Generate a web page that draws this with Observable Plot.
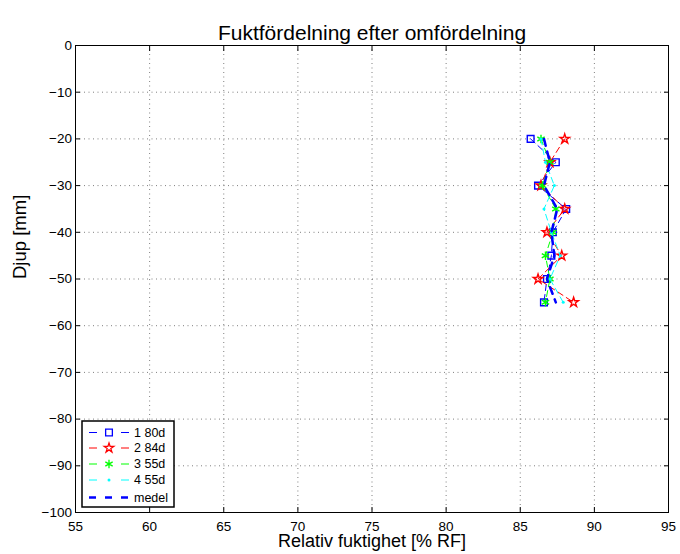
<!DOCTYPE html>
<html><head><meta charset="utf-8">
<script src="https://cdn.jsdelivr.net/npm/d3@7"></script>
<script src="https://cdn.jsdelivr.net/npm/@observablehq/plot@0.6"></script>
<style>
body{margin:0;background:#fff}
#chart{position:relative;width:680px;height:554px}
</style>
</head><body><div id="chart"></div>
<script>
// Depths (mm) and relative humidity (% RF) per series
const depth = [-20, -25, -30, -35, -40, -45, -50, -55];
const s1_80d = [85.7, 87.4, 86.2, 88.1, 87.2, 87.1, 86.8, 86.6];
const s2_84d = [88.0, 87.0, 86.4, 88.0, 86.8, 87.8, 86.2, 88.6];
const s3_55d = [86.4, 87.0, 86.5, 87.4, 87.2, 86.7, 87.0, 86.7];
const s4_55d = [86.4, 86.7, 87.3, 86.6, 87.1, 87.7, 87.0, 87.9];
const medel  = [86.6, 87.0, 86.6, 87.5, 87.1, 87.3, 86.8, 87.4];

const seriesNames = ["1 80d", "2 84d", "3 55d", "4 55d", "medel"];
const seriesColors = ["#0000ff", "#ff0000", "#00ff00", "#00ffff", "#0000ff"];
const xTicks = [55, 60, 65, 70, 75, 80, 85, 90, 95];
const yTicks = [0, -10, -20, -30, -40, -50, -60, -70, -80, -90, -100];

const title = "Fuktfördelning efter omfördelning";
const xLabel = "Relativ fuktighet [% RF]";
const yLabel = "Djup [mm]";

const rows = (vals) => depth.map((d, i) => ({depth: d, rf: vals[i]}));
const series = [s1_80d, s2_84d, s3_55d, s4_55d].map(rows);
const medelRows = rows(medel);

const font = "'Liberation Sans', Arial, Helvetica, sans-serif";
const thinDash = "6,4";
const thickDash = "7,6";
const symNames = ["square", "star", "asterisk", "circle"];
const symSizes = [3.8, 3.0, 4, 1.5];
const noText = () => "";

const lineMark = (data, i) => Plot.line(data, {x: "rf", y: "depth", stroke: seriesColors[i], strokeWidth: 1, strokeDasharray: thinDash});
const dotMark = (data, i) => i === 3
  ? Plot.dot(data, {x: "rf", y: "depth", symbol: symNames[i], r: symSizes[i], fill: seriesColors[i], stroke: "none"})
  : Plot.dot(data, {x: "rf", y: "depth", symbol: symNames[i], r: symSizes[i], stroke: seriesColors[i], fill: "none", strokeWidth: 1.4});

const plot = Plot.plot({
  width: 680, height: 554,
  marginLeft: 75, marginRight: 12, marginTop: 45, marginBottom: 42,
  style: {fontFamily: font, fontSize: "13.5px", color: "#000", background: "#fff"},
  x: {domain: [55, 95]},
  y: {domain: [-100, 0]},
  marks: [
    Plot.gridX(xTicks, {stroke: "#000", strokeOpacity: 0.5, strokeDasharray: "1,3.5"}),
    Plot.gridY(yTicks, {stroke: "#000", strokeOpacity: 0.5, strokeDasharray: "1,3.5"}),
    // tick labels
    Plot.axisX(xTicks, {anchor: "bottom", tickSize: 0, tickPadding: 9, label: null, fontSize: 13.5}),
    Plot.axisY(yTicks, {anchor: "left", tickSize: 0, tickPadding: 3.5, label: null, fontSize: 13.5}),
    // inward tick marks on all four sides
    Plot.axisX(xTicks, {anchor: "bottom", tickSize: -5, tickFormat: noText, label: null}),
    Plot.axisX(xTicks, {anchor: "top", tickSize: -5, tickFormat: noText, label: null}),
    Plot.axisY(yTicks, {anchor: "left", tickSize: -5, tickFormat: noText, label: null}),
    Plot.axisY(yTicks, {anchor: "right", tickSize: -5, tickFormat: noText, label: null}),
    Plot.frame({stroke: "#000", strokeWidth: 1}),
    ...series.flatMap((d, i) => [lineMark(d, i), dotMark(d, i)]),
    Plot.line(medelRows, {x: "rf", y: "depth", stroke: seriesColors[4], strokeWidth: 2.5, strokeDasharray: thickDash}),
    Plot.text([title], {frameAnchor: "top", dy: -20, fontSize: 21, fill: "#000"}),
    Plot.text([xLabel], {frameAnchor: "bottom", dy: 34.5, fontSize: 18, fill: "#000"}),
    Plot.text([yLabel], {frameAnchor: "left", dx: -55, rotate: -90, fontSize: 18.5, fill: "#000"})
  ]
});

document.getElementById("chart").appendChild(plot);

// Legend (MATLAB-style box in lower-left of the axes)
const svg = d3.select(plot);
const lg = svg.append("g").attr("font-family", font).attr("font-size", 12.5).attr("text-anchor", "start");
const bx = 82, by = 421, bw = 92, bh = 86;
lg.append("rect").attr("x", bx).attr("y", by).attr("width", bw).attr("height", bh)
  .attr("fill", "#fff").attr("stroke", "#000").attr("stroke-width", 1.5);
const rowY = [432.5, 448, 464, 480, 497.5];
const symbols = [d3.symbolSquare, d3.symbolStar, d3.symbolAsterisk, d3.symbolCircle];
seriesNames.forEach((name, i) => {
  const y = rowY[i];
  const c = seriesColors[i];
  if (i < 4) {
    lg.append("line").attr("x1", 89).attr("x2", 97).attr("y1", y).attr("y2", y).attr("stroke", c).attr("stroke-width", 1);
    lg.append("line").attr("x1", 121).attr("x2", 129).attr("y1", y).attr("y2", y).attr("stroke", c).attr("stroke-width", 1);
    const r = symSizes[i];
    const p = d3.symbol(symbols[i], r * r * Math.PI)();
    const s = lg.append("path").attr("d", p).attr("transform", `translate(109,${y})`);
    if (i === 3) s.attr("fill", c);
    else s.attr("fill", "none").attr("stroke", c).attr("stroke-width", 1.3);
  } else {
    lg.append("line").attr("x1", 89).attr("x2", 130).attr("y1", y).attr("y2", y)
      .attr("stroke", c).attr("stroke-width", 2.5).attr("stroke-dasharray", "7,9");
  }
  lg.append("text").attr("x", 134).attr("y", y).attr("dy", "0.35em").attr("fill", "#000").text(name);
});
</script>
</body></html>
